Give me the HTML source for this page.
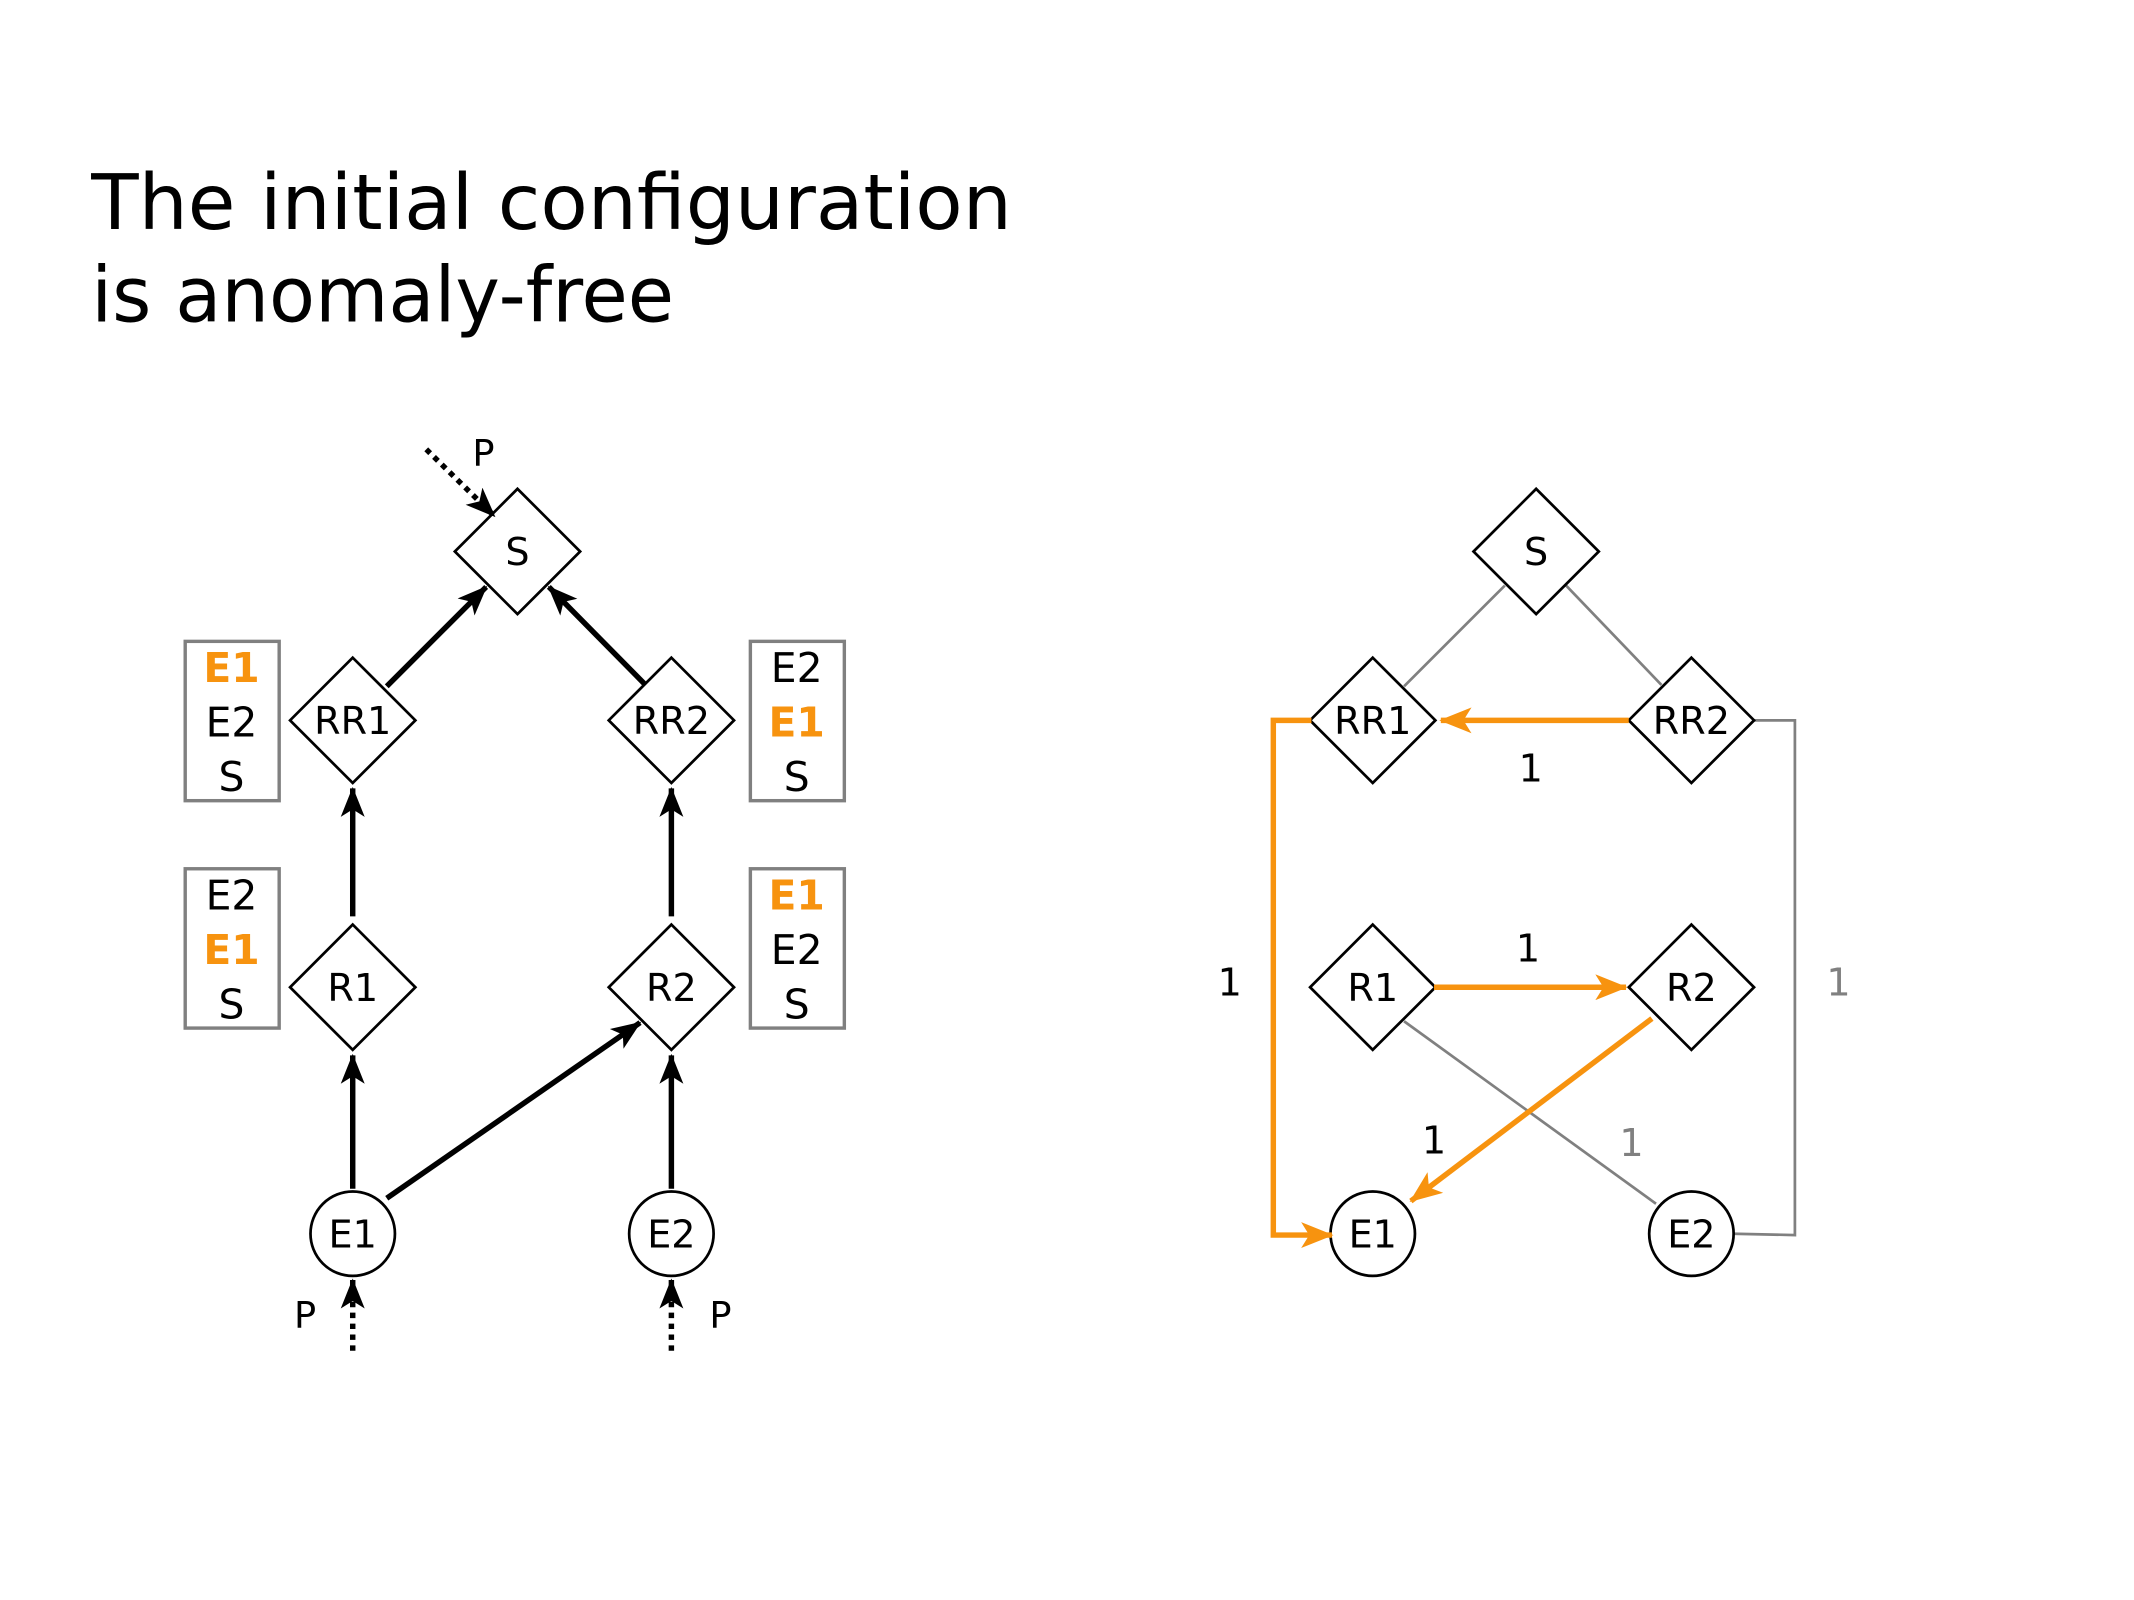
<!DOCTYPE html>
<html><head><meta charset="utf-8"><style>
html,body{margin:0;padding:0;background:#fff;}
svg{display:block;}
text{font-family:"DejaVu Sans","Liberation Sans",sans-serif;}
</style></head><body>
<svg width="2134" height="1600" viewBox="0 0 1567 1175" preserveAspectRatio="none" xmlns="http://www.w3.org/2000/svg">
<defs>
<marker id="abk" viewBox="0 0 20 16" refX="19" refY="8" markerWidth="22" markerHeight="18" markerUnits="userSpaceOnUse" orient="auto"><path d="M0,0 L20,8 L0,16 L5,8 Z" fill="#000"/></marker>
<marker id="ao" viewBox="0 0 20 16" refX="19" refY="8" markerWidth="24" markerHeight="19" markerUnits="userSpaceOnUse" orient="auto"><path d="M0,0 L20,8 L0,16 L5,8 Z" fill="#f7930f"/></marker>
</defs>
<text x="67" y="168" font-size="56" fill="#000" textLength="676" lengthAdjust="spacingAndGlyphs">The initial configuration</text>
<text x="67" y="236" font-size="56" fill="#000" textLength="428" lengthAdjust="spacingAndGlyphs">is anomaly-free</text>

<g fill="#fff" stroke="#000" stroke-width="2">
<polygon points="380,359 426,405 380,451 334,405"/>
<polygon points="259,483 305,529 259,575 213,529"/>
<polygon points="493,483 539,529 493,575 447,529"/>
<polygon points="259,679 305,725 259,771 213,725"/>
<polygon points="493,679 539,725 493,771 447,725"/>
<circle cx="259" cy="906" r="31"/>
<circle cx="493" cy="906" r="31"/>
</g>
<g font-size="28" text-anchor="middle" fill="#000">
<text x="380" y="415">S</text>
<text x="259" y="539">RR1</text><text x="493" y="539">RR2</text>
<text x="259" y="735">R1</text><text x="493" y="735">R2</text>
<text x="259" y="916">E1</text><text x="493" y="916">E2</text>
</g>
<g fill="none" stroke="#808080" stroke-width="2.5">
<rect x="136" y="471" width="69" height="117"/>
<rect x="136" y="638" width="69" height="117"/>
<rect x="551" y="471" width="69" height="117"/>
<rect x="551" y="638" width="69" height="117"/>
</g>
<g font-size="30" text-anchor="middle">
<text x="170" y="501" fill="#f7930f" font-weight="bold">E1</text><text x="170" y="541">E2</text><text x="170" y="581">S</text>
<text x="170" y="668">E2</text><text x="170" y="708" fill="#f7930f" font-weight="bold">E1</text><text x="170" y="748">S</text>
<text x="585" y="501">E2</text><text x="585" y="541" fill="#f7930f" font-weight="bold">E1</text><text x="585" y="581">S</text>
<text x="585" y="668" fill="#f7930f" font-weight="bold">E1</text><text x="585" y="708">E2</text><text x="585" y="748">S</text>
</g>
<g stroke="#000" stroke-width="4" fill="none" marker-end="url(#abk)">
<line x1="284" y1="504" x2="357" y2="431"/>
<line x1="474" y1="503" x2="403" y2="431"/>
<line x1="259" y1="673" x2="259" y2="579"/>
<line x1="493" y1="673" x2="493" y2="579"/>
<line x1="259" y1="873" x2="259" y2="775"/>
<line x1="493" y1="873" x2="493" y2="775"/>
<line x1="284" y1="880" x2="470" y2="751"/>
</g>
<g stroke="#000" stroke-width="4" fill="none" stroke-dasharray="4,4" marker-end="url(#abk)">
<line x1="313" y1="330" x2="363" y2="379"/>
<line x1="259" y1="992" x2="259" y2="940"/>
<line x1="493" y1="992" x2="493" y2="940"/>
</g>
<g font-size="27" text-anchor="middle">
<text x="355" y="342">P</text><text x="224" y="975">P</text><text x="529" y="975">P</text>
</g>

<g stroke="#808080" stroke-width="2" fill="none">
<line x1="1105" y1="430" x2="1031" y2="504"/>
<line x1="1150" y1="430" x2="1220" y2="503"/>
<polyline points="1288,529 1318,529 1318,907 1273,906"/>
<line x1="1031" y1="750" x2="1216" y2="884"/>
</g>
<g fill="#fff" stroke="#000" stroke-width="2">
<polygon points="1128,359 1174,405 1128,451 1082,405"/>
<polygon points="1008,483 1054,529 1008,575 962,529"/>
<polygon points="1242,483 1288,529 1242,575 1196,529"/>
<polygon points="1008,679 1054,725 1008,771 962,725"/>
<polygon points="1242,679 1288,725 1242,771 1196,725"/>
<circle cx="1008" cy="906" r="31"/>
<circle cx="1242" cy="906" r="31"/>
</g>
<g stroke="#f7930f" stroke-width="4" fill="none" marker-end="url(#ao)">
<line x1="1196" y1="529" x2="1058" y2="529"/>
<polyline points="963,529 935,529 935,907 978,907"/>
<line x1="1053" y1="725" x2="1194" y2="725"/>
<line x1="1213" y1="748" x2="1036" y2="882"/>
</g>
<g font-size="28" text-anchor="middle">
<text x="1128" y="415">S</text>
<text x="1008" y="539">RR1</text><text x="1242" y="539">RR2</text>
<text x="1008" y="735">R1</text><text x="1242" y="735">R2</text>
<text x="1008" y="916">E1</text><text x="1242" y="916">E2</text>
<text x="1124" y="574">1</text><text x="903" y="731">1</text><text x="1122" y="706">1</text><text x="1053" y="847">1</text>
<text x="1350" y="731" fill="#808080">1</text><text x="1198" y="849" fill="#808080">1</text>
</g>
</svg>
</body></html>
